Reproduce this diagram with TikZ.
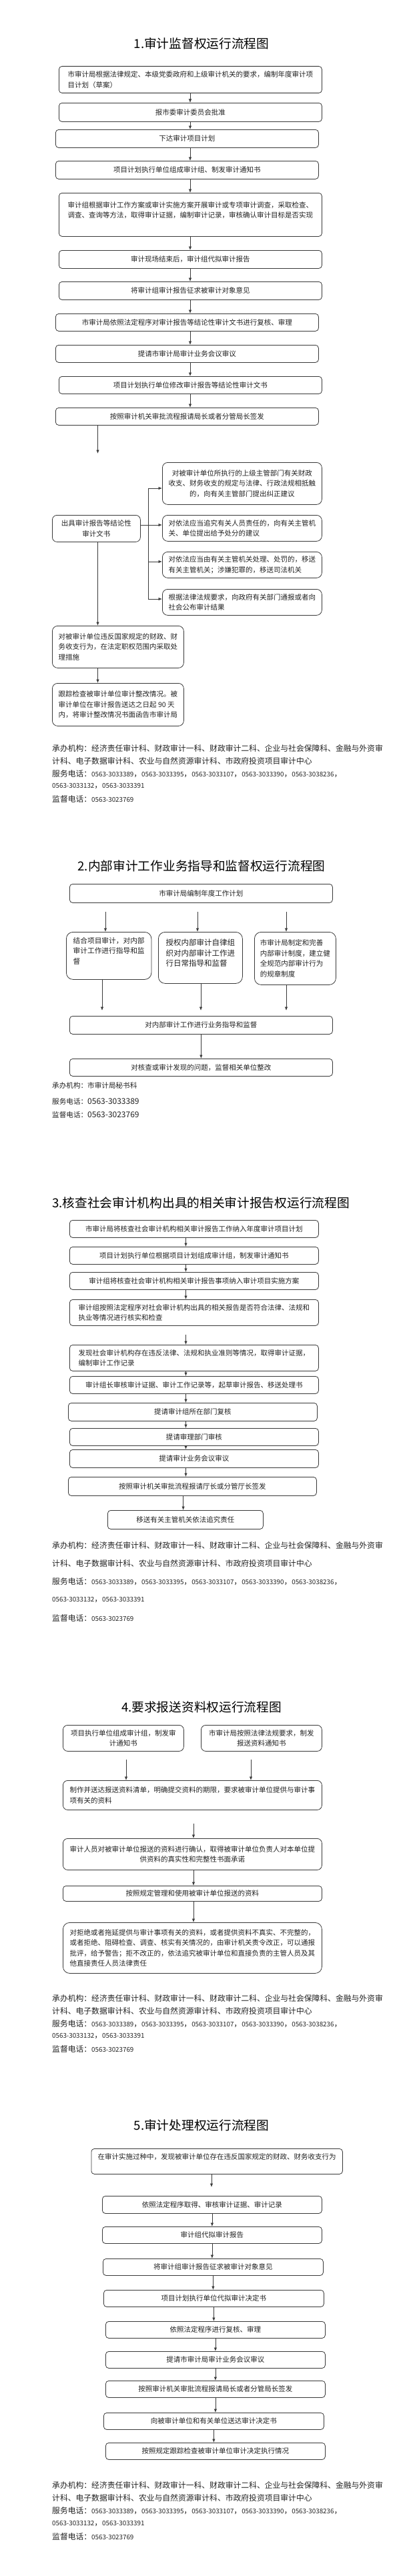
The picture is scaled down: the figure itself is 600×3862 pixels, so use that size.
\documentclass[tikz,border=0pt]{standalone}
\usepackage{fontspec}
\setmainfont{Noto Sans CJK SC}
\usetikzlibrary{arrows.meta}
\definecolor{ink}{HTML}{222222}
\definecolor{edgec}{HTML}{3A3A3A}
\tikzset{
  box/.style={draw=edgec, line width=0.8pt, rounded corners=4.5pt, inner sep=0pt, text=ink,
              font=\fontsize{10.5}{15.3}\selectfont, align=center},
  arr/.style={draw=edgec, line width=0.8pt, -{Latex[length=5.5pt,width=4.5pt]}},
  plain/.style={draw=edgec, line width=0.8pt},
  foot/.style={anchor=west, inner sep=0pt, text=ink, font=\fontsize{11.8}{14}\selectfont},
  ttl/.style={inner sep=0pt, text=black, font=\fontsize{18.7}{22}\selectfont}
}
\newcommand\telnum[1]{{\fontsize{9.8}{12}\selectfont #1}}
\newcommand\flowbox[7][]{\pgfmathsetmacro\bxw{#5-#3}\pgfmathsetmacro\bxh{#6-#4}%
  \node[box,anchor=north west,minimum width=\bxw pt,minimum height=\bxh pt,#1] (#2) at (#3,#4) {#7};}
\newcommand\footerblock[3]{%
  \node[foot] (#1a) at (78,#2) {承办机构：经济责任审计科、财政审计一科、财政审计二科、企业与社会保障科、金融与外资审};
  \node[foot] (#1b) at (78,{#2+#3}) {计科、电子数据审计科、农业与自然资源审计科、市政府投资项目审计中心};
  \node[foot] (#1c) at (78,{#2+2*#3}) {服务电话：\telnum{0563-3033389}，\telnum{0563-3033395}，\telnum{0563-3033107}，\telnum{0563-3033390}，\telnum{0563-3038236}，};
  \node[foot] (#1d) at (78,{#2+3*#3}) {\telnum{0563-3033132}，\telnum{0563-3033391}};
  \node[foot] (#1e) at (78,{#2+4*#3}) {监督电话：\telnum{0563-3023769}};}
\begin{document}
\begin{tikzpicture}[x=1pt,y=-1pt]
\fill[white] (0,0) rectangle (600,3862);
\useasboundingbox (0,0) rectangle (600,3862);

% ---------------- Section 1 ----------------
\node[ttl] (T1) at (302,65) {1.审计监督权运行流程图};
\flowbox[align=left]{A1}{88}{99}{482}{139}{市审计局根据法律规定、本级党委政府和上级审计机关的要求，编制年度审计项\\目计划（草案）}
\flowbox{A2}{88}{154}{482}{182}{报市委审计委员会批准}
\flowbox{A3}{83}{194}{477}{221}{下达审计项目计划}
\flowbox{A4}{83}{241}{477}{268}{项目计划执行单位组成审计组、制发审计通知书}
\flowbox[align=left]{A5}{88}{289}{482}{354}{审计组根据审计工作方案或审计实施方案开展审计或专项审计调查，采取检查、\\调查、查询等方法，取得审计证据，编制审计记录，审核确认审计目标是否实现\\\mbox{}}
\flowbox{A6}{88}{375}{482}{402}{审计现场结束后，审计组代拟审计报告}
\flowbox{A7}{88}{422}{482}{449}{将审计组审计报告征求被审计对象意见}
\flowbox{A8}{83}{470}{477}{496}{市审计局依照法定程序对审计报告等结论性审计文书进行复核、审理}
\flowbox{A9}{83}{517}{477}{543}{提请市审计局审计业务会议审议}
\flowbox{A10}{88}{564}{482}{590}{项目计划执行单位修改审计报告等结论性审计文书}
\flowbox{A11}{83}{611}{477}{637}{按照审计机关审批流程报请局长或者分管局长签发}
\flowbox[rounded corners=7pt]{A12}{78}{772}{210}{812}{出具审计报告等结论性\\审计文书}
\flowbox[rounded corners=8pt]{R1}{243}{693}{482}{756}{对被审计单位所执行的上级主管部门有关财政\\收支、财务收支的规定与法律、行政法规相抵触\\的，向有关主管部门提出纠正建议}
\flowbox[rounded corners=8pt,align=left]{R2}{243}{772}{482}{811}{对依法应当追究有关人员责任的，向有关主管机\\关、单位提出给予处分的建议}
\flowbox[rounded corners=8pt,align=left]{R3}{243}{827}{482}{866}{对依法应当由有关主管机关处理、处罚的，移送\\有关主管机关；涉嫌犯罪的，移送司法机关}
\flowbox[rounded corners=8pt,align=left]{R4}{243}{883}{482}{922}{根据法律法规要求，向政府有关部门通报或者向\\社会公布审计结果}
\flowbox[rounded corners=8pt,align=left]{A13}{78}{938}{275}{1001}{对被审计单位违反国家规定的财政、财\\务收支行为，在法定职权范围内采取处\\理措施}
\flowbox[rounded corners=8pt,align=left]{A14}{78}{1024}{275}{1088}{跟踪检查被审计单位审计整改情况。被\\审计单位在审计报告送达之日起 90 天\\内，将审计整改情况书面函告市审计局}

\coordinate (ax) at (285,150);
\draw[arr] (ax |- A1.south) -- (ax |- A2.north);
\draw[arr] (ax |- A2.south) -- (ax |- A3.north);
\draw[arr] (ax |- A3.south) -- (ax |- A4.north);
\draw[arr] (ax |- A4.south) -- (ax |- A5.north);
\draw[arr] (ax |- A5.south) -- (ax |- A6.north);
\draw[arr] (ax |- A6.south) -- (ax |- A7.north);
\draw[arr] (ax |- A7.south) -- (ax |- A8.north);
\draw[arr] (ax |- A8.south) -- (ax |- A9.north);
\draw[arr] (ax |- A9.south) -- (ax |- A10.north);
\draw[arr] (ax |- A10.south) -- (ax |- A11.north);
\coordinate (g1) at (146.5,680);
\draw[arr] (g1 |- A11.south) -- (g1);
\coordinate (j1) at (222,732);
\coordinate (j2) at (222,787);
\coordinate (j3) at (222,842);
\coordinate (j4) at (222,898);
\draw[plain] (A12.east |- j2) -- (j2);
\draw[plain] (j1) -- (j4);
\draw[arr] (j1) -- (j1 -| R1.west);
\draw[arr] (j2) -- (j2 -| R2.west);
\draw[arr] (j3) -- (j3 -| R3.west);
\draw[arr] (j4) -- (j4 -| R4.west);
\draw[arr] (g1 |- A12.south) -- (g1 |- A13.north);
\draw[arr] (g1 |- A13.south) -- (g1 |- A14.north);

\footerblock{F1}{1122}{19}

% ---------------- Section 2 ----------------
\node[ttl] (T2) at (302,1298) {2.内部审计工作业务指导和监督权运行流程图};
\flowbox{B0}{104}{1325}{498}{1353}{市审计局编制年度工作计划}
\flowbox[align=left,rounded corners=10pt,font=\fontsize{10.7}{15.3}\selectfont]{B1}{99}{1397}{226.5}{1468}{结合项目审计，对内部\\审计工作进行指导和监\\督\\\mbox{}}
\flowbox[align=left,rounded corners=10pt,font=\fontsize{11.5}{15.5}\selectfont]{B2}{237}{1397}{363}{1474}{授权内部审计自律组\\织对内部审计工作进\\行日常指导和监督\\\mbox{}}
\flowbox[align=left,rounded corners=10pt,font=\fontsize{10.5}{15.6}\selectfont]{B3}{381}{1397}{503}{1476}{市审计局制定和完善\\内部审计制度，建立健\\全规范内部审计行为\\的规章制度}
\flowbox{B4}{104}{1523}{498}{1550}{对内部审计工作进行业务指导和监督}
\flowbox{B5}{104}{1587}{498}{1613}{对核查或审计发现的问题，监督相关单位整改}
\coordinate (u1) at (158,1367);
\coordinate (u2) at (296,1367);
\coordinate (u3) at (429,1367);
\draw[arr] (u1) -- (u1 |- B1.north);
\draw[arr] (u2) -- (u2 |- B2.north);
\draw[arr] (u3) -- (u3 |- B3.north);
\coordinate (w1) at (153,1515);
\coordinate (w2) at (301,1515);
\coordinate (w3) at (429,1515);
\draw[arr] (w1 |- B1.south) -- (w1);
\draw[arr] (w2 |- B2.south) -- (w2);
\draw[arr] (w3 |- B3.south) -- (w3);
\draw[arr] (B4.south) -- (B4.south |- B5.north);
\node[foot,font=\fontsize{10.6}{13}\selectfont] (F2a) at (78,1627) {承办机构：市审计局秘书科};
\node[foot,font=\fontsize{10.6}{13}\selectfont] (F2b) at (78,1651) {服务电话：{\fontsize{12}{14}\selectfont 0563-3033389}};
\node[foot,font=\fontsize{10.6}{13}\selectfont] (F2c) at (78,1671) {监督电话：{\fontsize{12}{14}\selectfont 0563-3023769}};

% ---------------- Section 3 ----------------
\node[ttl] (T3) at (301,1803) {3.核查社会审计机构出具的相关审计报告权运行流程图};
\flowbox{C1}{104}{1829}{477}{1855}{市审计局将核查社会审计机构相关审计报告工作纳入年度审计项目计划}
\flowbox{C2}{104}{1869}{477}{1895}{项目计划执行单位根据项目计划组成审计组，制发审计通知书}
\flowbox{C3}{104}{1907}{477}{1933}{审计组将核查社会审计机构相关审计报告事项纳入审计项目实施方案}
\flowbox[align=left]{C4}{104}{1948}{477}{1987}{审计组按照法定程序对社会审计机构出具的相关报告是否符合法律、法规和\\执业等情况进行核实和检查}
\flowbox[align=left]{C5}{104}{2016}{477}{2055}{发现社会审计机构存在违反法律、法规和执业准则等情况，取得审计证据，\\编制审计工作记录}
\flowbox{C6}{104}{2063}{477}{2089}{审计组长审核审计证据、审计工作记录等，起草审计报告、移送处理书}
\flowbox{C7}{102}{2103}{475}{2130}{提请审计组所在部门复核}
\flowbox{C8}{104}{2141}{477}{2167}{提请审理部门审核}
\flowbox{C9}{104}{2173}{477}{2200}{提请审计业务会议审议}
\flowbox{C10}{102}{2214}{474}{2242}{按照审计机关审批流程报请厅长或分管厅长签发}
\flowbox{C11}{161}{2264}{394}{2292}{移送有关主管机关依法追究责任}
\coordinate (cx) at (278.5,1850);
\draw[arr] (cx |- C1.south) -- (cx |- C2.north);
\draw[arr] (cx |- C2.south) -- (cx |- C3.north);
\draw[arr] (cx |- C3.south) -- (cx |- C4.north);
\draw[arr, shorten <=13pt] (cx |- C4.south) -- (cx |- C5.north);
\draw[arr] (cx |- C5.south) -- (cx |- C6.north);
\draw[arr] (cx |- C6.south) -- (cx |- C7.north);
\draw[arr] (cx |- C7.south) -- (cx |- C8.north);
\draw[arr] (cx |- C8.south) -- (cx |- C9.north);
\draw[arr] (cx |- C9.south) -- (cx |- C10.north);
\coordinate (cy) at (274.6,2250);
\draw[arr] (cy |- C10.south) -- (cy |- C11.north);

\footerblock{F3}{2317}{27.2}

% ---------------- Section 4 ----------------
\node[ttl] (T4) at (302,2559) {4.要求报送资料权运行流程图};
\flowbox[rounded corners=7pt]{D1}{94}{2586}{275}{2625}{项目执行单位组成审计组，制发审\\计通知书}
\flowbox[rounded corners=7pt]{D2}{301}{2586}{482}{2625}{市审计局按照法律法规要求，制发\\报送资料通知书}
\flowbox[align=left,rounded corners=7pt]{D3}{94}{2669}{482}{2713}{制作并送达报送资料清单，明确提交资料的期限，要求被审计单位提供与审计事\\项有关的资料}
\flowbox[rounded corners=7pt]{D4}{94}{2756}{482}{2803}{审计人员对被审计单位报送的资料进行确认，取得被审计单位负责人对本单位提\\供资料的真实性和完整性书面承诺}
\flowbox{D5}{94}{2827}{482}{2850}{按照规定管理和使用被审计单位报送的资料}
\flowbox[align=left,rounded corners=10pt]{D6}{94}{2882}{482}{2958}{对拒绝或者拖延提供与审计事项有关的资料，或者提供资料不真实、不完整的，\\或者拒绝、阻碍检查、调查、核实有关情况的，由审计机关责令改正，可以通报\\批评，给予警告；拒不改正的，依法追究被审计单位和直接负责的主管人员及其\\他直接责任人员法律责任}
\coordinate (p1) at (189,2638);
\coordinate (p2) at (376,2638);
\draw[arr] (p1) -- (p1 |- D3.north);
\draw[arr] (p2) -- (p2 |- D3.north);
\coordinate (dx) at (290,2740);
\draw[arr, shorten <=20pt] (dx |- D3.south) -- (dx |- D4.north);
\draw[arr] (dx |- D4.south) -- (dx |- D5.north);
\draw[arr] (dx |- D5.south) -- (dx |- D6.north);

\footerblock{F4}{2996}{19}

% ---------------- Section 5 ----------------
\node[ttl] (T5) at (302,3186) {5.审计处理权运行流程图};
\flowbox[align=left]{E1}{136.5}{3221}{513}{3259}{在审计实施过种中，发现被审计单位存在违反国家规定的财政、财务收支行为\\\mbox{}}
\flowbox{E2}{153}{3292}{482}{3318}{依照法定程序取得、审核审计证据、审计记录}
\flowbox{E3}{153}{3338}{482}{3363}{审计组代拟审计报告}
\flowbox{E4}{154}{3386}{484}{3411}{将审计组审计报告征求被审计对象意见}
\flowbox{E5}{155}{3433}{485}{3458}{项目计划执行单位代拟审计决定书}
\flowbox{E6}{158}{3480}{487}{3505}{依照法定程序进行复核、审理}
\flowbox{E7}{158}{3525}{487}{3550}{提请市审计局审计业务会议审议}
\flowbox{E8}{158}{3569}{487}{3594}{按照审计机关审批流程报请局长或者分管局长签发}
\flowbox{E9}{155}{3617}{485}{3642}{向被审计单位和有关单位送达审计决定书}
\flowbox{E10}{158}{3662}{487}{3687}{按照规定跟踪检查被审计单位审计决定执行情况}
\coordinate (q1) at (317,3279);
\draw[arr] (q1 |- E1.south) -- (q1);
\draw[arr] (E2.south) -- (E2.south |- E3.north);
\draw[arr] (E3.south) -- (E3.south |- E4.north);
\draw[arr] (E4.south) -- (E4.south |- E5.north);
\draw[arr] (E5.south) -- (E5.south |- E6.north);
\draw[arr] (E6.south) -- (E6.south |- E7.north);
\draw[arr] (E7.south) -- (E7.south |- E8.north);
\draw[arr] (E8.south) -- (E8.south |- E9.north);
\draw[arr] (E9.south) -- (E9.south |- E10.north);

\footerblock{F5}{3726}{19.2}
\end{tikzpicture}
\end{document}
